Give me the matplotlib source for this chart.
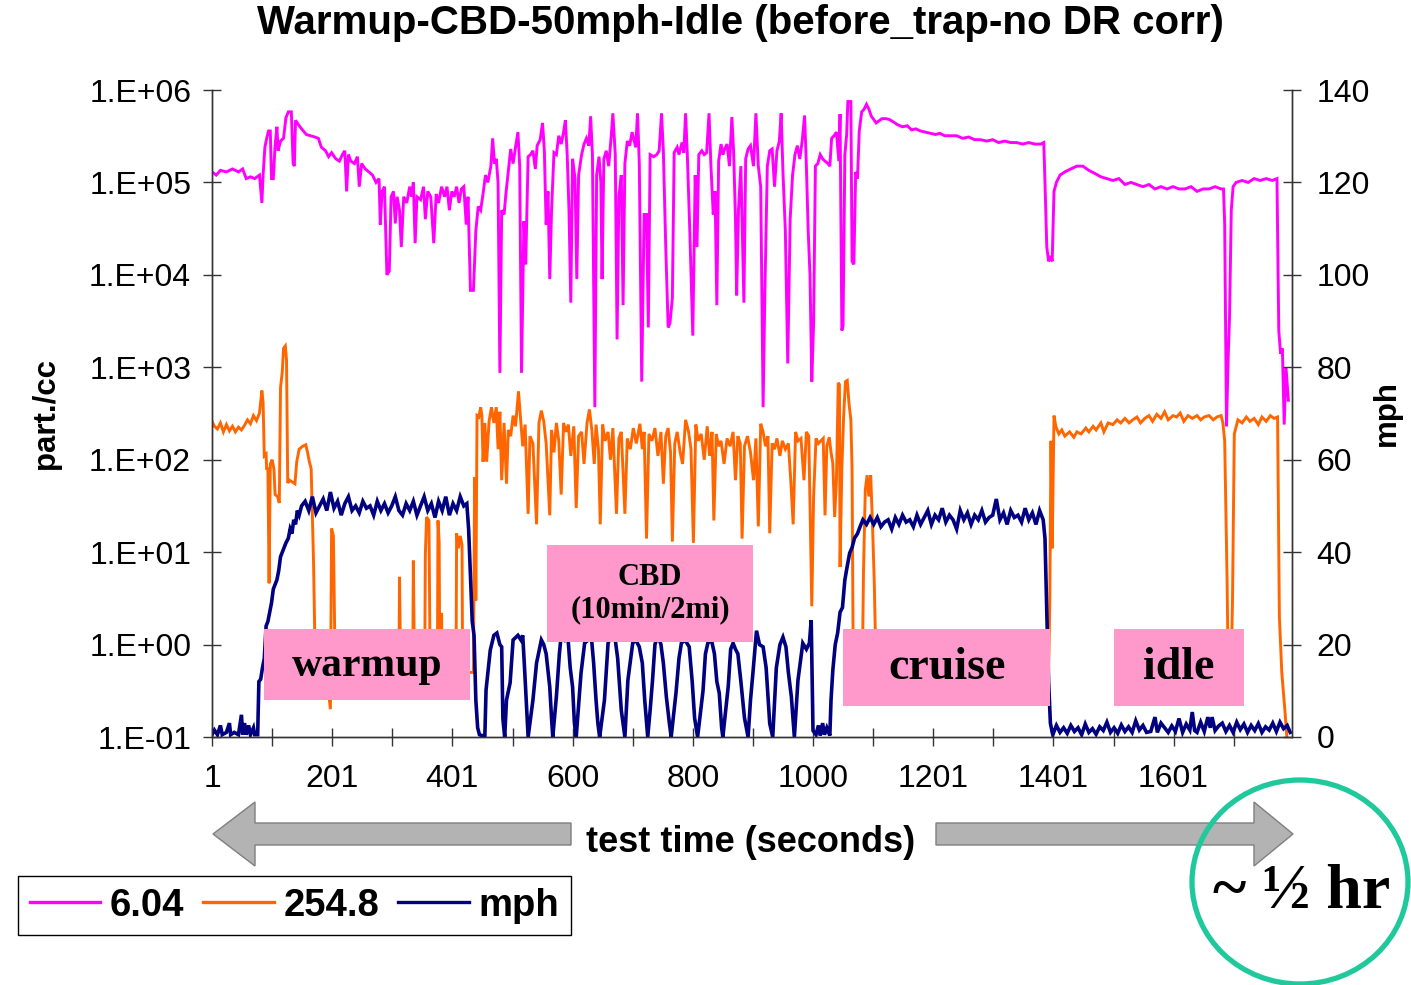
import numpy as np
import matplotlib
matplotlib.use("Agg")
import matplotlib.pyplot as plt
from matplotlib.patches import Rectangle, Polygon, Ellipse
from matplotlib.ticker import FixedLocator, FuncFormatter, NullLocator
from matplotlib.lines import Line2D

# ---- data: (test second, value) ----
p604 = [
    (1, 1.3e5), (8, 1.2e5), (15, 1.35e5), (25, 1.3e5), (35, 1.4e5), (45, 1.3e5), (52, 1.4e5),
    (58, 1.1e5), (65, 1.15e5), (72, 1.1e5), (80, 1.2e5), (84, 6e4), (86, 1.2e5), (89, 2.4e5),
    (92, 3e5), (95, 3.6e5), (98, 3.6e5), (100, 1.1e5), (103, 1.1e5), (106, 2.5e5), (109, 4e5),
    (111, 2.2e5), (115, 2.8e5), (120, 3e5), (124, 5e5), (128, 5.8e5), (133, 5.8e5), (136, 1.6e5),
    (138, 1.5e5), (140, 4.7e5), (145, 4.2e5), (150, 3.8e5), (158, 3.3e5), (165, 3.2e5),
    (172, 3.1e5), (178, 3e5), (183, 2.4e5), (190, 2.2e5), (195, 1.9e5), (200, 2.1e5),
    (207, 1.8e5), (213, 1.7e5), (218, 2e5), (222, 2.2e5), (225, 8e4), (228, 2e5), (232, 1.7e5),
    (238, 1.6e5), (243, 1.9e5), (246, 9e4), (250, 1.6e5), (256, 1.4e5), (262, 1.3e5),
    (268, 1.2e5), (274, 1e5), (279, 1.1e5), (281, 3.5e4), (284, 8e4), (288, 9e4), (292, 1e4),
    (296, 1.1e4), (299, 7e4), (303, 8e4), (306, 3.6e4), (309, 7e4), (313, 5e4), (316, 2e4),
    (320, 7e4), (325, 6e4), (330, 9e4), (333, 7e4), (336, 1e5), (339, 2.2e4), (342, 7e4),
    (348, 6.5e4), (353, 9e4), (356, 4e4), (360, 8e4), (365, 7e4), (370, 2.2e4), (374, 7.5e4),
    (378, 6e4), (383, 9e4), (388, 7e4), (392, 9e4), (396, 5e4), (400, 8e4), (404, 7e4),
    (408, 9e4), (412, 6e4), (416, 8.5e4), (420, 9e4), (424, 3.5e4), (427, 7e4), (431, 6.8e3),
    (436, 6.8e3), (440, 3e4), (444, 5.5e4), (448, 5e4), (452, 7.5e4), (456, 1.2e5), (460, 1e5),
    (465, 1.5e5), (468, 3e5), (471, 1.6e5), (474, 1.8e5), (477, 1e5), (480, 8.7e2), (483, 5e4),
    (487, 4.5e4), (490, 7.5e4), (494, 1.3e5), (498, 2.3e5), (502, 1.6e5), (506, 2.4e5),
    (510, 3.5e5), (513, 1.5e5), (516, 8.7e2), (520, 3.8e4), (523, 1.3e4), (527, 1.9e5),
    (531, 2e5), (535, 2.2e5), (539, 1.4e5), (542, 2.5e5), (547, 2.9e5), (551, 4.4e5),
    (554, 2.2e5), (557, 3.5e4), (560, 8e4), (563, 9e3), (566, 5e4), (570, 2.1e5), (574, 2e5),
    (578, 3.2e5), (582, 2.6e5), (586, 3.5e5), (589, 4.7e5), (592, 2e5), (595, 5e4), (598, 5e3),
    (601, 1.8e5), (605, 1.1e5), (608, 9e3), (611, 1.2e5), (616, 2e5), (620, 2.6e5), (624, 3e5),
    (628, 2.5e5), (631, 5.2e5), (634, 2e5), (638, 3.7e2), (641, 1.2e5), (645, 1.9e5),
    (648, 1e5), (650, 9e3), (653, 1.8e5), (657, 2.2e5), (661, 1.5e5), (665, 3e5), (668, 5.6e5),
    (672, 2e5), (675, 2e3), (678, 7e4), (682, 1.2e5), (685, 4.7e3), (688, 1.6e5), (692, 2.8e5),
    (696, 2.5e5), (700, 3.5e5), (706, 2.4e5), (709, 5.6e5), (712, 1.6e5), (716, 7e2),
    (720, 4.5e4), (724, 4.5e4), (727, 2.7e3), (730, 2e5), (736, 1.9e5), (741, 2e5), (745, 2.2e5),
    (749, 5.6e5), (752, 2.2e5), (756, 2e4), (760, 2.7e3), (763, 3e3), (767, 5.6e3), (770, 2.1e5),
    (775, 2.4e5), (778, 2e5), (783, 2.7e5), (786, 2.1e5), (789, 5.6e5), (792, 1.9e5), (796, 3e4),
    (801, 2.2e3), (805, 1.2e5), (808, 2e4), (811, 2e5), (816, 2.2e5), (820, 2e5), (824, 2.1e5),
    (828, 5.6e5), (831, 1.6e5), (835, 4.5e4), (838, 8e4), (841, 4.7e3), (844, 1.7e5),
    (848, 2.6e5), (851, 2e5), (854, 2.3e5), (858, 2.6e5), (862, 1.5e5), (866, 5.1e5),
    (869, 2.1e5), (872, 4e4), (874, 6e3), (877, 5e4), (881, 1.5e5), (886, 5e3), (889, 1.8e5),
    (893, 2.3e5), (897, 2.5e5), (902, 1.5e5), (906, 5.6e5), (910, 1.5e5), (914, 9e4),
    (918, 3.7e2), (921, 7e3), (925, 1.5e5), (929, 2.2e5), (933, 2.3e5), (937, 9e4), (941, 2.2e5),
    (945, 2.8e5), (948, 5.6e5), (951, 1.3e5), (955, 3e4), (959, 1.1e3), (963, 4e4), (967, 1.2e5),
    (971, 2e5), (975, 2.5e5), (979, 1.8e5), (983, 2.8e5), (987, 5.3e5), (990, 1.5e5), (993, 3e4),
    (996, 1e4), (999, 7e2), (1002, 3e3), (1005, 1.5e5), (1009, 1.6e5), (1013, 2e5),
    (1017, 1.8e5), (1021, 1.7e5), (1026, 1.6e5), (1029, 1.5e5), (1032, 3e5), (1036, 3.2e5),
    (1040, 3.5e5), (1044, 1.7e5), (1046, 5.5e5), (1049, 2.5e3), (1051, 2.8e3), (1054, 2e5),
    (1057, 3.3e5), (1059, 7.5e5), (1064, 7.5e5), (1066, 1.4e4), (1069, 1.3e4), (1072, 1.3e5),
    (1075, 1.1e5), (1078, 3.6e5), (1082, 5.8e5), (1086, 6.2e5), (1090, 7e5), (1094, 6.2e5),
    (1098, 5.2e5), (1102, 4.8e5), (1106, 4.4e5), (1110, 4.6e5), (1116, 4.9e5), (1122, 4.9e5),
    (1128, 4.8e5), (1135, 4.5e5), (1142, 4.2e5), (1150, 4e5), (1158, 4.1e5), (1165, 3.7e5),
    (1172, 3.8e5), (1180, 3.6e5), (1188, 3.5e5), (1196, 3.4e5), (1205, 3.3e5), (1212, 3.4e5),
    (1220, 3.2e5), (1230, 3.2e5), (1240, 3.2e5), (1250, 3e5), (1260, 3.1e5), (1270, 2.9e5),
    (1280, 2.9e5), (1290, 2.8e5), (1300, 2.9e5), (1310, 2.7e5), (1320, 2.8e5), (1330, 2.7e5),
    (1340, 2.7e5), (1350, 2.6e5), (1360, 2.7e5), (1370, 2.6e5), (1380, 2.6e5), (1385, 2.7e5),
    (1387, 1e5), (1390, 2e4), (1393, 1.4e4), (1396, 1.6e4), (1399, 1.4e4), (1402, 8e4),
    (1406, 1e5), (1412, 1.2e5), (1420, 1.3e5), (1430, 1.4e5), (1440, 1.5e5), (1450, 1.5e5),
    (1460, 1.35e5), (1470, 1.25e5), (1480, 1.15e5), (1490, 1.1e5), (1500, 1.05e5),
    (1510, 1.1e5), (1520, 9.5e4), (1530, 1e5), (1540, 9.5e4), (1550, 9e4), (1560, 9.5e4),
    (1570, 8.5e4), (1580, 9e4), (1590, 8.5e4), (1600, 9e4), (1610, 8.5e4), (1620, 8.5e4),
    (1630, 9e4), (1640, 8e4), (1650, 8.5e4), (1660, 8.5e4), (1670, 9e4), (1680, 8.5e4),
    (1684, 8.5e4), (1686, 3.6e4), (1689, 2.3e2), (1692, 1.4e3), (1694, 3.4e3), (1697, 5e4),
    (1700, 9e4), (1705, 1e5), (1715, 1.05e5), (1725, 1e5), (1735, 1.1e5), (1745, 1.05e5),
    (1755, 1.1e5), (1765, 1.05e5), (1773, 1.1e5), (1776, 2.5e3), (1779, 1.4e3), (1782, 1.6e3),
    (1785, 2.4e2), (1788, 1e3), (1792, 4.4e2),
]

p2548 = [
    (1, 260), (5, 230), (10, 215), (15, 250), (20, 200), (25, 240), (30, 205), (35, 230),
    (40, 200), (45, 225), (50, 210), (55, 235), (60, 270), (65, 245), (70, 300), (75, 265),
    (80, 320), (84, 560), (86, 420), (88, 110), (91, 115), (92, 78), (94, 82), (96, 4.6),
    (98, 90), (101, 100), (104, 80), (106, 42), (110, 40), (113, 34), (115, 600), (118, 900),
    (120, 1600), (123, 1700), (125, 1200), (127, 56), (130, 60), (139, 55), (142, 95),
    (146, 130), (152, 140), (157, 145), (160, 120), (163, 95), (166, 80), (170, 7.6),
    (173, 0.5), (190, 0.6), (198, 0.2), (200, 18), (203, 15), (206, 0.5), (240, 0.4),
    (280, 0.6), (312, 0.5), (313, 5.4), (315, 0.5), (335, 0.5), (336, 8.1), (338, 0.5),
    (355, 0.6), (356, 9.4), (358, 24), (362, 22), (364, 0.5), (376, 0.5), (377, 22),
    (379, 12.6), (380, 0.5), (382, 0.5), (383, 2.2), (384, 0.5), (407, 0.5), (408, 16),
    (411, 11), (414, 15), (417, 12), (418, 0.5), (436, 0.5), (438, 65), (440, 3), (442, 300),
    (445, 290), (448, 370), (450, 300), (452, 95), (455, 250), (458, 95), (462, 260),
    (466, 370), (470, 250), (474, 370), (477, 130), (480, 330), (483, 60), (487, 250),
    (491, 55), (494, 210), (498, 180), (502, 300), (506, 230), (511, 550), (514, 300),
    (518, 140), (522, 240), (527, 26), (530, 180), (535, 150), (541, 20), (545, 250),
    (549, 340), (553, 260), (557, 150), (563, 25), (566, 210), (570, 120), (574, 250),
    (578, 160), (582, 42), (586, 250), (590, 200), (594, 240), (598, 110), (603, 230),
    (607, 30), (611, 180), (616, 200), (620, 90), (625, 250), (629, 350), (633, 210),
    (637, 90), (640, 240), (644, 130), (647, 20), (651, 240), (655, 160), (660, 200),
    (664, 100), (668, 220), (674, 26), (678, 170), (682, 200), (688, 26), (692, 170),
    (697, 130), (702, 220), (707, 150), (713, 245), (717, 130), (720, 200), (724, 14),
    (728, 190), (733, 160), (738, 220), (743, 110), (748, 200), (752, 55), (756, 180),
    (760, 220), (764, 120), (767, 13), (771, 150), (775, 200), (780, 120), (784, 90),
    (789, 270), (794, 200), (798, 130), (802, 12.6), (806, 240), (810, 160), (815, 190),
    (820, 100), (825, 230), (829, 110), (833, 200), (836, 22), (840, 190), (844, 140),
    (848, 160), (853, 90), (858, 170), (863, 140), (868, 200), (872, 60), (876, 180),
    (880, 150), (883, 14), (887, 140), (892, 180), (897, 120), (902, 60), (906, 170),
    (910, 19), (914, 245), (918, 200), (922, 140), (926, 180), (929, 16), (933, 150),
    (937, 130), (941, 170), (946, 110), (950, 160), (955, 130), (960, 150), (964, 60),
    (968, 20), (972, 200), (976, 160), (981, 170), (986, 60), (990, 200), (994, 180),
    (999, 2.6), (1002, 40), (1006, 170), (1010, 150), (1014, 160), (1018, 170), (1021, 25),
    (1024, 140), (1028, 175), (1031, 120), (1034, 91), (1037, 24), (1040, 60), (1043, 680),
    (1045, 650), (1046, 6.9), (1049, 80), (1052, 300), (1055, 700), (1058, 720), (1061, 400),
    (1064, 270), (1066, 80), (1068, 0.5), (1083, 0.5), (1085, 6), (1088, 47), (1091, 68),
    (1094, 40), (1097, 68), (1100, 20), (1103, 4.6), (1106, 0.5), (1393, 0.5), (1395, 3),
    (1397, 160), (1399, 11), (1402, 300), (1405, 230), (1410, 190), (1415, 210), (1420, 180),
    (1428, 200), (1435, 175), (1440, 200), (1447, 190), (1455, 220), (1460, 200), (1467, 230),
    (1472, 210), (1480, 250), (1485, 200), (1492, 250), (1500, 240), (1507, 270), (1513, 250),
    (1520, 280), (1527, 250), (1533, 270), (1540, 290), (1546, 250), (1553, 280), (1560, 300),
    (1566, 260), (1573, 310), (1580, 280), (1586, 330), (1592, 270), (1600, 300), (1606, 290),
    (1612, 320), (1618, 260), (1625, 300), (1632, 280), (1640, 300), (1646, 270), (1652, 290),
    (1660, 300), (1667, 270), (1673, 290), (1680, 300), (1683, 250), (1686, 160), (1690, 5),
    (1692, 0.4), (1696, 0.3), (1699, 3), (1702, 190), (1708, 270), (1715, 250), (1722, 290),
    (1728, 260), (1735, 280), (1742, 240), (1748, 290), (1755, 260), (1762, 300), (1768, 280),
    (1774, 290), (1777, 2), (1781, 0.5), (1786, 0.2), (1790, 0.09), (1795, 0.08),
]

mph = [
    (1, 0.5), (5, 1.5), (10, 0.5), (15, 2.5), (18, 0.5), (25, 1), (30, 3), (32, 0.5), (38, 1),
    (45, 0.5), (50, 4.8), (52, 0.5), (55, 3), (58, 0.5), (62, 2.5), (65, 0.5), (70, 2),
    (72, 0.5), (77, 0.5), (79, 12), (82, 12.5), (85, 15), (88, 17), (91, 24), (94, 25),
    (97, 27), (100, 29), (103, 32), (106, 33), (109, 34), (112, 36), (115, 39), (118, 40),
    (121, 41), (124, 42), (128, 43), (131, 45), (134, 44), (137, 47), (140, 46), (143, 49),
    (146, 48), (150, 50), (156, 51), (162, 49), (168, 52), (174, 48.5), (180, 50), (186, 51.5),
    (192, 49), (198, 53), (204, 49.5), (210, 51), (216, 48), (222, 50.5), (228, 52), (234, 49),
    (240, 50), (246, 48.5), (252, 51), (258, 49.5), (264, 50), (270, 48), (276, 51), (282, 49),
    (288, 50.5), (294, 48.5), (300, 50), (306, 52), (312, 49), (318, 48), (324, 50.5),
    (330, 49), (336, 51), (342, 48), (348, 50), (354, 52), (360, 49), (366, 50.5), (372, 47.5),
    (378, 51), (384, 49), (390, 52), (396, 48), (402, 50.5), (408, 49), (414, 52), (420, 50),
    (425, 50.5), (428, 45), (431, 35), (434, 25), (437, 22), (440, 8), (443, 2), (446, 0.5),
    (450, 0.3), (455, 0.3), (457, 10.2), (464, 18.8), (470, 22), (475, 22.5), (480, 20),
    (483, 19.5), (485, 4), (488, 0), (491, 8), (497, 11.7), (502, 21), (510, 22), (515, 21),
    (518, 22), (521, 15), (525, 5), (527, 0), (535, 8), (541, 16), (549, 21), (553, 20),
    (557, 18), (563, 10.8), (566, 4), (568, 0), (574, 8.7), (579, 18), (582, 22), (588, 21),
    (593, 22), (597, 15), (601, 10.8), (604, 3), (607, 0), (615, 13.8), (621, 20.3), (627, 21),
    (632, 22), (636, 16), (640, 8), (643, 3), (646, 0), (654, 8), (660, 20.3), (666, 22),
    (671, 22), (676, 17), (682, 5.8), (688, 0), (693, 12.3), (701, 20.3), (706, 21),
    (712, 19.5), (717, 16), (721, 8), (726, 0), (730, 5.8), (734, 12.3), (738, 20), (743, 22),
    (748, 20), (752, 16), (757, 8.7), (762, 3), (765, 0), (773, 9.5), (778, 17), (782, 20.3),
    (788, 21), (795, 19.5), (800, 12), (804, 4.1), (809, 0), (818, 10), (822, 18), (826, 20.3),
    (832, 21), (837, 18), (841, 12), (845, 9.5), (849, 2), (851, 0), (856, 6), (860, 11),
    (864, 19), (868, 20.3), (872, 19), (876, 18), (881, 12), (887, 4.1), (893, 0), (897, 8),
    (901, 13.8), (907, 23), (912, 20), (918, 19.5), (923, 15), (929, 2.9), (934, 0), (940, 15),
    (946, 20), (951, 21.6), (956, 19.5), (960, 14), (965, 8.7), (970, 0), (976, 12.3),
    (984, 20.3), (990, 19), (995, 20.3), (998, 25.3), (1000, 10), (1001, 1.4), (1006, 0.5),
    (1010, 2.5), (1013, 0.3), (1017, 3), (1020, 0.5), (1024, 2), (1029, 0.3), (1031, 8),
    (1034, 14.5), (1038, 20), (1042, 22.5), (1046, 27), (1050, 28), (1054, 34), (1058, 37),
    (1062, 39.8), (1066, 41), (1070, 43), (1075, 44), (1079, 45.4), (1084, 47), (1090, 46),
    (1096, 47.5), (1102, 46), (1108, 47.5), (1114, 45.5), (1120, 46.5), (1126, 47),
    (1132, 45), (1138, 47.5), (1144, 46), (1150, 48), (1156, 46.5), (1162, 47), (1168, 45.5),
    (1174, 48), (1180, 46), (1186, 47.5), (1192, 49), (1198, 46), (1204, 48), (1210, 47),
    (1216, 49.5), (1222, 46.5), (1228, 48), (1234, 47), (1240, 45), (1246, 49), (1252, 47),
    (1258, 48.5), (1264, 46), (1270, 48), (1276, 47), (1282, 49), (1288, 46.5), (1294, 47.5),
    (1300, 48), (1306, 51.5), (1312, 47), (1318, 48.5), (1324, 46), (1330, 49), (1336, 47.5),
    (1342, 48), (1348, 46.5), (1354, 49.5), (1360, 47), (1366, 48.5), (1372, 46), (1378, 49),
    (1384, 47), (1387, 43), (1390, 27), (1393, 12), (1396, 3), (1399, 1), (1400, 0.5),
    (1406, 2.5), (1412, 1), (1418, 2), (1424, 0.8), (1430, 2.5), (1436, 1.2), (1442, 2),
    (1448, 0.5), (1454, 2.8), (1460, 1), (1466, 1.8), (1472, 0.6), (1478, 2.2), (1484, 1.4),
    (1490, 3.2), (1496, 1), (1502, 2), (1508, 0.8), (1514, 2.6), (1520, 1.2), (1526, 2.2),
    (1532, 1), (1538, 3.5), (1544, 1.5), (1550, 2.5), (1556, 1), (1563, 1.2), (1570, 4.3),
    (1574, 1), (1580, 3), (1586, 2), (1592, 1), (1598, 2.4), (1604, 1.2), (1610, 4),
    (1616, 1), (1622, 2.8), (1628, 1.5), (1632, 5.4), (1636, 1.4), (1640, 1), (1646, 3.2),
    (1652, 1.2), (1658, 4.3), (1662, 2), (1665, 4.3), (1670, 1.4), (1676, 2.4), (1682, 3),
    (1688, 1.2), (1694, 2.5), (1700, 1), (1706, 3.2), (1712, 1.6), (1718, 2.8), (1724, 1),
    (1730, 2.5), (1736, 1.4), (1742, 2.9), (1748, 1), (1754, 2.2), (1760, 1.5), (1766, 3),
    (1772, 1.2), (1778, 3.2), (1784, 1.8), (1790, 2.5), (1795, 1),
]

series_names = ["6.04", "254.8", "mph"]
series_colors = ["#FF00FF", "#FF6600", "#000080"]
xtick_pos = [1, 201, 401, 601, 801, 1001, 1201, 1401, 1601]
xtick_labels = ["1", "201", "401", "600", "800", "1000", "1201", "1401", "1601"]

W, H = 1411, 985


def fx(x):
    return x / W


def fy(y):
    return 1 - y / H


sans = "Liberation Sans"
serif = "Liberation Serif"
plt.rcParams["font.family"] = [sans, "DejaVu Sans"]

fig = plt.figure(figsize=(W / 100, H / 100), dpi=100)
fig.patch.set_facecolor("white")

ax = fig.add_axes([fx(212), fy(737), 1080 / W, 647 / H])
ax2 = ax.twinx()

t1, v1 = np.array(p604).T
t2, v2 = np.array(p2548).T
t3, v3 = np.array(mph).T

ax.plot(t1, v1, color=series_colors[0], lw=2.1, solid_joinstyle="miter")
ax.plot(t2, v2, color=series_colors[1], lw=2.1, solid_joinstyle="miter")
ax2.plot(t3, v3, color=series_colors[2], lw=2.6, solid_joinstyle="miter")

ax.set_yscale("log")
ax.set_ylim(0.1, 1e6)
ax.set_xlim(1, 1798)
ax.yaxis.set_major_locator(FixedLocator([10.0 ** k for k in range(-1, 7)]))
ax.yaxis.set_minor_locator(NullLocator())
ax.yaxis.set_major_formatter(
    FuncFormatter(lambda v, p: "1.E%+03d" % int(round(np.log10(v)))))

ax.set_xticks(xtick_pos)
ax.set_xticklabels(xtick_labels)
ax.xaxis.set_minor_locator(FixedLocator(list(range(101, 1798, 200))))

ax2.set_ylim(0, 140)
ax2.set_yticks(range(0, 141, 20))

for a in (ax, ax2):
    a.spines["top"].set_visible(False)
    for s in a.spines.values():
        s.set_color("#333333")
        s.set_linewidth(1.0)
    a.set_facecolor("none")

ax.tick_params(axis="both", which="both", direction="inout", length=13, width=1,
               color="#333333", labelsize=23)
ax.tick_params(axis="y", pad=8.5)
ax.tick_params(axis="x", pad=13)
ax2.tick_params(axis="y", direction="inout", length=13, width=1, color="#333333",
                labelsize=23, pad=11)

ax.set_ylabel("part./cc", fontsize=22.5, fontweight="bold")
ax.yaxis.set_label_coords((61 - 212) / 1080, 0.5)
ax2.set_ylabel("mph", fontsize=22.5, fontweight="bold", rotation=90)
ax2.yaxis.set_label_coords((1372 - 212) / 1080, 0.5)

fig.text(fx(740), fy(23), "Warmup-CBD-50mph-Idle (before_trap-no DR corr)",
         ha="center", va="center", fontsize=29, fontweight="bold")

# pink phase boxes
boxes = [
    ((264, 629, 470, 700), "warmup", 30, (367, 666)),
    ((547, 545, 753, 642), "CBD\n(10min/2mi)", 22, (650, 594)),
    ((843, 629, 1050, 706), "cruise", 33, (947, 668)),
    ((1114, 629, 1244, 706), "idle", 33, (1179, 668)),
]
for (x0, y0, x1, y1), txt, fs, (cx, cy) in boxes:
    fig.add_artist(Rectangle((fx(x0), fy(y1)), (x1 - x0) / W, (y1 - y0) / H,
                             transform=fig.transFigure, facecolor="#FF99CC",
                             edgecolor="none", zorder=5))
    fig.text(fx(cx), fy(cy), txt, ha="center", va="center", fontsize=fs,
             fontweight="bold", family=serif, linespacing=1.15, zorder=6)

# gray arrows around the x axis title
left_arrow = [(213, 834), (255, 802), (255, 823), (571, 823), (571, 845),
              (255, 845), (255, 866)]
right_arrow = [(936, 823), (1254, 823), (1254, 802), (1293, 834), (1254, 866),
               (1254, 845), (936, 845)]
for pts in (left_arrow, right_arrow):
    fig.add_artist(Polygon([(fx(x), fy(y)) for x, y in pts], closed=True,
                           transform=fig.transFigure, facecolor="#B3B3B3",
                           edgecolor="#7F7F7F", lw=1.0))
fig.text(fx(751), fy(842), "test time (seconds)", ha="center", va="center",
         fontsize=26, fontweight="bold")

handles = [Line2D([], [], color=c, lw=2.4) for c in series_colors]
leg = fig.legend(handles, series_names, loc="center",
                 bbox_to_anchor=(fx(294.5), fy(905.5)), ncol=3, frameon=True,
                 fancybox=False, edgecolor="black", framealpha=1,
                 prop={"family": sans, "weight": "bold", "size": 27.5},
                 handlelength=1.85, handletextpad=0.25, columnspacing=0.5,
                 borderpad=0.3)
leg.get_frame().set_linewidth(1.0)

fig.add_artist(Ellipse((fx(1300), fy(882)), 216 / W, 204 / H,
                       transform=fig.transFigure, facecolor="none",
                       edgecolor="#1FC99B", lw=3.8))
fig.text(fx(1302), fy(893), "~ ½ hr", ha="center", va="center", fontsize=46,
         fontweight="bold", family=serif)

fig.savefig("out.png", dpi=100)
